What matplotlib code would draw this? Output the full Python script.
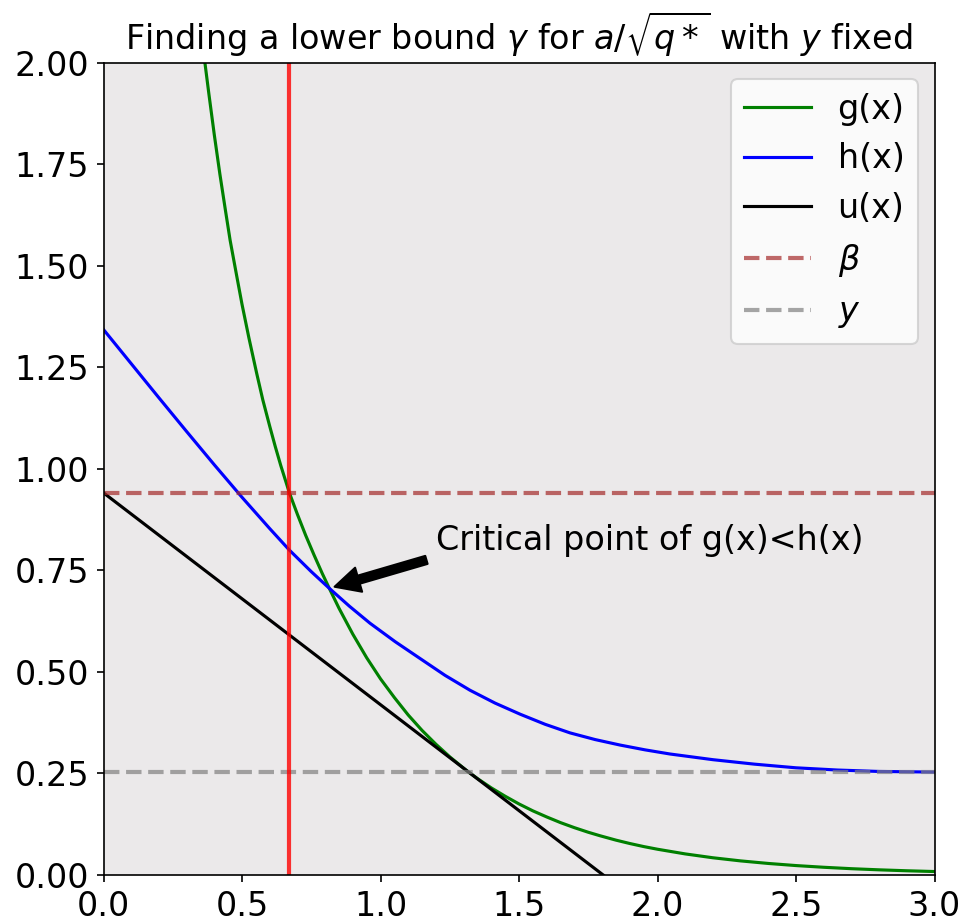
import matplotlib
matplotlib.use("Agg")
import matplotlib.pyplot as plt

# values
x_g = [0.34, 0.366, 0.38, 0.40, 0.42, 0.44, 0.457, 0.48, 0.50, 0.525, 0.553, 0.575,
       0.60, 0.62, 0.64, 0.671, 0.70, 0.73, 0.76, 0.79, 0.815, 0.85, 0.90, 0.95,
       1.00, 1.05, 1.10, 1.15, 1.20, 1.25, 1.311, 1.35, 1.40, 1.45, 1.50, 1.55,
       1.60, 1.65, 1.70, 1.75, 1.792, 1.85, 1.90, 1.95, 2.00, 2.10, 2.20, 2.30,
       2.40, 2.50, 2.60, 2.70, 2.80, 2.90, 3.00]
g = [2.150, 2.000, 1.925, 1.822, 1.726, 1.637, 1.563, 1.478, 1.405, 1.322, 1.235, 1.170,
     1.105, 1.055, 1.008, 0.941, 0.888, 0.836, 0.788, 0.742, 0.706, 0.657, 0.593, 0.535,
     0.483, 0.437, 0.394, 0.356, 0.322, 0.291, 0.257, 0.2375, 0.2145, 0.194, 0.175, 0.158,
     0.143, 0.129, 0.1166, 0.1053, 0.0968, 0.0859, 0.0776, 0.0701, 0.0635, 0.052, 0.0425, 0.0348,
     0.0285, 0.0233, 0.0191, 0.0156, 0.0128, 0.0105, 0.0086]

x_h = [0.00, 0.10, 0.20, 0.30, 0.40, 0.50, 0.60, 0.671, 0.75, 0.815, 0.888, 0.962,
       1.053, 1.143, 1.233, 1.323, 1.413, 1.504, 1.594, 1.684, 1.775, 1.865, 1.955, 2.045,
       2.20, 2.35, 2.50, 2.65, 2.80, 3.00]
h = [1.343, 1.259, 1.175, 1.092, 1.010, 0.930, 0.853, 0.800, 0.747, 0.706, 0.6617, 0.620,
     0.5745, 0.533, 0.4916, 0.455, 0.4235, 0.396, 0.3712, 0.350, 0.3335, 0.320, 0.3082, 0.298,
     0.284, 0.273, 0.264, 0.2585, 0.255, 0.2535]

x_u = [0.0, 1.804]
u = [0.941, 0.0]

beta = 0.941
y_fixed = 0.253
x_crit = 0.671
crit_point = (0.815, 0.706)

fig = plt.figure(figsize=(964 / 150, 924 / 150), dpi=150)
ax = fig.add_axes([0.1074, 0.053, 0.862, 0.8791])
ax.set_facecolor('#ebe9ea')

ax.plot(x_g, g, color='green', lw=1.5, label='g(x)')
ax.plot(x_h, h, color='blue', lw=1.5, label='h(x)')
ax.plot(x_u, u, color='black', lw=1.5, label='u(x)')
ax.axhline(beta, color='brown', alpha=0.7, ls='--', lw=2, label=r'$\beta$')
ax.axhline(y_fixed, color='gray', alpha=0.7, ls='--', lw=2, label=r'$y$')
ax.axvline(x_crit, color='red', alpha=0.8, lw=2)

ax.annotate('Critical point of g(x)<h(x)', xy=crit_point, xytext=(1.2, 0.8),
            arrowprops=dict(facecolor='black', shrink=0.05), fontsize=16)

ax.set_xlim(0, 3)
ax.set_ylim(0, 2)
ax.tick_params(labelsize=16)
ax.legend(loc='upper right', fontsize=16)
ax.set_title(r'Finding a lower bound $\gamma$ for $a/\sqrt{q*}$ with $y$ fixed', fontsize=16)

fig.savefig('out.png', dpi=150)
